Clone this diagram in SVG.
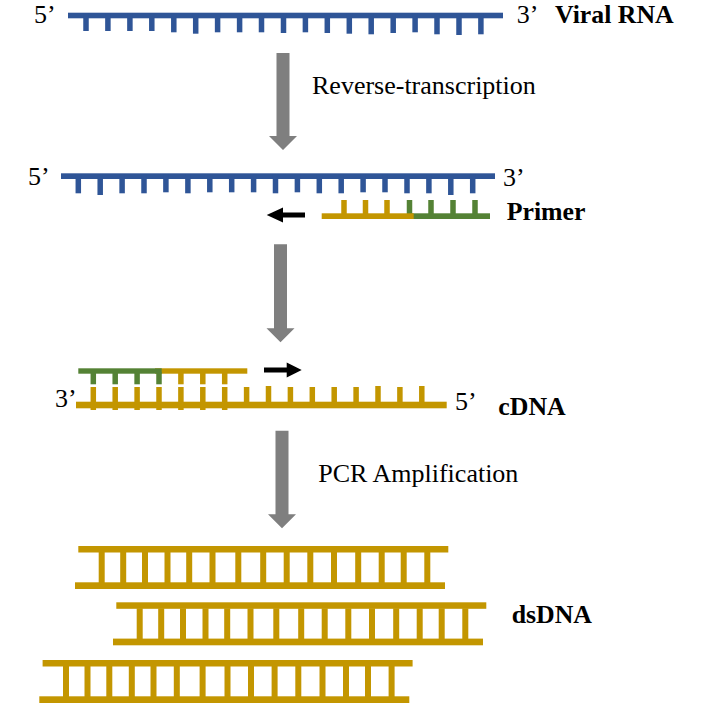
<svg xmlns="http://www.w3.org/2000/svg" xmlns:xlink="http://www.w3.org/1999/xlink" width="702" height="703" viewBox="0 0 702 703">
<style>
.blue{fill:#2f5597}
.gold{fill:#c39600}
.green{fill:#548235}
.gray{fill:#7f7f7f}
.blk{fill:#000}
text{font-family:"Liberation Serif","Times New Roman",serif;font-size:26px;fill:#000}
.b{font-weight:bold;font-size:25.8px}
</style>
<defs>
<g id="ladder" class="gold">
<rect x="3.3" y="0" width="370" height="6.5"/>
<rect x="0" y="36.3" width="370" height="6.7"/>
<rect x="23.7" y="6" width="6" height="31"/>
<rect x="45.2" y="6" width="6" height="31"/>
<rect x="67" y="6" width="6" height="31"/>
<rect x="89.5" y="6" width="6" height="31"/>
<rect x="111.2" y="6" width="6" height="31"/>
<rect x="134.5" y="6" width="6" height="31"/>
<rect x="160.3" y="6" width="6" height="31"/>
<rect x="185.2" y="6" width="6" height="31"/>
<rect x="208.7" y="6" width="6" height="31"/>
<rect x="232.3" y="6" width="6" height="31"/>
<rect x="256" y="6" width="6" height="31"/>
<rect x="280.2" y="6" width="6" height="31"/>
<rect x="303.7" y="6" width="6" height="31"/>
<rect x="325.7" y="6" width="6" height="31"/>
<rect x="349.3" y="6" width="6" height="31"/>
</g>
</defs>
<rect width="702" height="703" fill="#fff"/>

<g id="viral-rna">
<g class="blue">
<rect x="68" y="12.7" width="435" height="5.6"/>
<rect x="83.25" y="13" width="5.5" height="18"/>
<rect x="105.15" y="13" width="5.5" height="18"/>
<rect x="127.15" y="13" width="5.5" height="18"/>
<rect x="149.05" y="13" width="5.5" height="18"/>
<rect x="171.05" y="13" width="5.5" height="19.3"/>
<rect x="192.95" y="13" width="5.5" height="20.7"/>
<rect x="214.85" y="13" width="5.5" height="19.3"/>
<rect x="236.85" y="13" width="5.5" height="19.3"/>
<rect x="258.75" y="13" width="5.5" height="19.3"/>
<rect x="280.75" y="13" width="5.5" height="20"/>
<rect x="302.65" y="13" width="5.5" height="19.3"/>
<rect x="324.55" y="13" width="5.5" height="20"/>
<rect x="346.55" y="13" width="5.5" height="20.7"/>
<rect x="368.45" y="13" width="5.5" height="21.3"/>
<rect x="390.45" y="13" width="5.5" height="20"/>
<rect x="412.35" y="13" width="5.5" height="19.3"/>
<rect x="434.25" y="13" width="5.5" height="21.3"/>
<rect x="456.25" y="13" width="5.5" height="22"/>
<rect x="478.15" y="13" width="5.5" height="21.3"/>
</g>
<text x="34" y="23">5’</text>
<text x="516.7" y="22.5">3’</text>
<text class="b" x="555" y="22.5">Viral RNA</text>
</g>

<g id="rna-primer">
<g class="blue">
<rect x="61" y="173.3" width="434" height="5.7"/>
<rect x="75.55" y="174" width="5.5" height="19.3"/>
<rect x="97.45" y="174" width="5.5" height="21"/>
<rect x="119.35" y="174" width="5.5" height="19.3"/>
<rect x="141.25" y="174" width="5.5" height="19.3"/>
<rect x="163.15" y="174" width="5.5" height="18.3"/>
<rect x="185.15" y="174" width="5.5" height="19.3"/>
<rect x="207.05" y="174" width="5.5" height="18.3"/>
<rect x="228.95" y="174" width="5.5" height="18.3"/>
<rect x="250.85" y="174" width="5.5" height="18.3"/>
<rect x="272.75" y="174" width="5.5" height="19.3"/>
<rect x="294.65" y="174" width="5.5" height="18.3"/>
<rect x="316.55" y="174" width="5.5" height="19.3"/>
<rect x="338.45" y="174" width="5.5" height="19.3"/>
<rect x="360.35" y="174" width="5.5" height="18.3"/>
<rect x="382.25" y="174" width="5.5" height="18.3"/>
<rect x="404.25" y="174" width="5.5" height="19.3"/>
<rect x="426.15" y="174" width="5.5" height="19.3"/>
<rect x="448.05" y="174" width="5.5" height="21"/>
<rect x="469.95" y="174" width="5.5" height="19.3"/>
</g>
<g class="green">
<rect x="410" y="213.3" width="80" height="5.7"/>
<rect x="406.75" y="200" width="5.5" height="14"/>
<rect x="428.25" y="200" width="5.5" height="14"/>
<rect x="450.25" y="200" width="5.5" height="14"/>
<rect x="472.25" y="200" width="5.5" height="14"/>
</g>
<g class="gold">
<rect x="321.7" y="213.3" width="92" height="5.7"/>
<rect x="341.25" y="200" width="5.5" height="14"/>
<rect x="362.75" y="200" width="5.5" height="14"/>
<rect x="384.25" y="200" width="5.5" height="14"/>
</g>
<path class="blk" d="M266.7 215 L283 207.5 V212.5 H305 V217.5 H283 V222.5 Z"/>
<text x="28" y="185">5’</text>
<text x="503" y="186">3’</text>
<text class="b" x="506.7" y="220">Primer</text>
</g>

<g id="cdna">
<g class="gold">
<rect x="155" y="368.3" width="92.3" height="5.4"/>
<rect x="178.15" y="372" width="5.5" height="12.3"/>
<rect x="200.05" y="372" width="5.5" height="12.3"/>
<rect x="221.95" y="372" width="5.5" height="12.3"/>
</g>
<g class="green">
<rect x="78.3" y="368.3" width="83.4" height="5.4"/>
<rect x="90.55" y="372" width="5.5" height="12.3"/>
<rect x="112.45" y="372" width="5.5" height="12.3"/>
<rect x="134.35" y="372" width="5.5" height="12.3"/>
<rect x="156.25" y="372" width="5.5" height="12.3"/>
</g>
<g class="gold">
<rect x="76" y="401.7" width="370.7" height="6.6"/>
<rect x="90.55" y="387" width="5.5" height="23"/>
<rect x="112.45" y="387" width="5.5" height="23"/>
<rect x="134.35" y="387" width="5.5" height="23"/>
<rect x="156.25" y="387" width="5.5" height="23"/>
<rect x="178.15" y="387" width="5.5" height="23"/>
<rect x="200.05" y="387" width="5.5" height="23"/>
<rect x="221.95" y="387" width="5.5" height="23"/>
<rect x="243.85" y="387" width="5.5" height="15.5"/>
<rect x="265.75" y="386" width="5.5" height="16.5"/>
<rect x="287.65" y="387" width="5.5" height="15.5"/>
<rect x="309.55" y="387" width="5.5" height="15.5"/>
<rect x="331.45" y="387" width="5.5" height="15.5"/>
<rect x="353.35" y="387" width="5.5" height="15.5"/>
<rect x="375.25" y="386" width="5.5" height="16.5"/>
<rect x="397.15" y="387" width="5.5" height="15.5"/>
<rect x="419.05" y="386" width="5.5" height="16.5"/>
</g>
<path class="blk" d="M301.7 370 L286.7 362.5 V367.5 H264 V372.5 H286.7 V377.5 Z"/>
<text x="55" y="406.7">3’</text>
<text x="455" y="410">5’</text>
<text class="b" x="498.3" y="415">cDNA</text>
</g>

<g id="dsdna">
<use xlink:href="#ladder" href="#ladder" transform="translate(75,546)"/>
<use xlink:href="#ladder" href="#ladder" transform="translate(113,602.3)"/>
<use xlink:href="#ladder" href="#ladder" transform="translate(39.3,660)"/>
<text class="b" x="511.7" y="623.3">dsDNA</text>
</g>

<g id="connectors">
<path class="gray" d="M276.5 53 H289.5 V136 H297 L283 150 L269 136 H276.5 Z"/>
<path class="gray" d="M274 244.3 H287 V328.3 H294.5 L280.5 342.3 L266.5 328.3 H274 Z"/>
<path class="gray" d="M275.5 430.7 H288.5 V514.3 H296 L282 528.3 L268 514.3 H275.5 Z"/>
<text x="312" y="94.3">Reverse-transcription</text>
<text x="318.3" y="481.7">PCR Amplification</text>
</g>
</svg>
